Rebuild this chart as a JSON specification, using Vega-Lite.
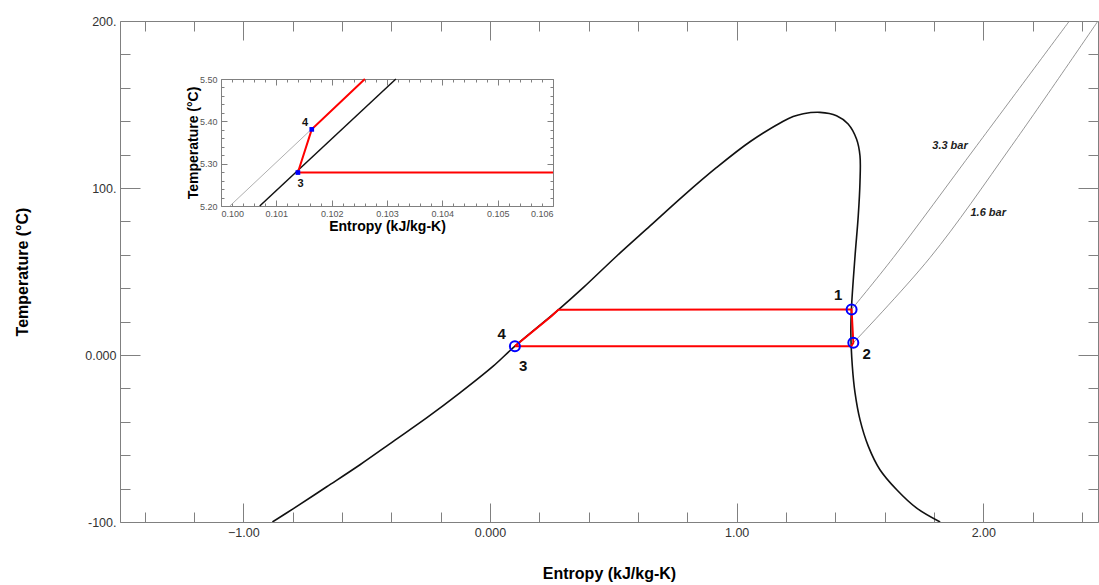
{
  "$schema": "https://vega.github.io/schema/vega-lite/v6.json",
  "width": 978,
  "height": 501,
  "autosize": "none",
  "padding": {"left": 120, "top": 21, "right": 1, "bottom": 63},
  "background": "white",
  "config": {
    "view": {"stroke": null},
    "font": "Liberation Sans",
    "axis": {"grid": false, "domainColor": "#808080", "tickColor": "#808080", "domainWidth": 1, "tickWidth": 1, "labelFont": "Liberation Sans", "titleFont": "Liberation Sans", "labelColor": "#333333", "titleColor": "#000000"}
  },
  "datasets": {
    "dome": [
      {"i": 0, "s": -0.882, "T": -100}, {"i": 1, "s": -0.797, "T": -92.0}, {"i": 2, "s": -0.662, "T": -78.9},
      {"i": 3, "s": -0.527, "T": -65.7}, {"i": 4, "s": -0.392, "T": -51.7}, {"i": 5, "s": -0.257, "T": -37.7},
      {"i": 6, "s": -0.122, "T": -22.7}, {"i": 7, "s": 0.013, "T": -6.7}, {"i": 8, "s": 0.101, "T": 5.28},
      {"i": 9, "s": 0.277, "T": 27.0}, {"i": 10, "s": 0.378, "T": 40.3}, {"i": 11, "s": 0.514, "T": 59.3},
      {"i": 12, "s": 0.649, "T": 77.3}, {"i": 13, "s": 0.784, "T": 95.3}, {"i": 14, "s": 0.919, "T": 112.3},
      {"i": 15, "s": 1.054, "T": 127.7}, {"i": 16, "s": 1.189, "T": 140.0}, {"i": 17, "s": 1.229, "T": 142.8},
      {"i": 18, "s": 1.270, "T": 144.5}, {"i": 19, "s": 1.338, "T": 145.3}, {"i": 20, "s": 1.405, "T": 143.3},
      {"i": 21, "s": 1.452, "T": 138.3}, {"i": 22, "s": 1.486, "T": 129.3}, {"i": 23, "s": 1.500, "T": 119.3},
      {"i": 24, "s": 1.500, "T": 103.3}, {"i": 25, "s": 1.493, "T": 83.3}, {"i": 26, "s": 1.480, "T": 59.3},
      {"i": 27, "s": 1.466, "T": 29.3}, {"i": 28, "s": 1.463, "T": 13.3}, {"i": 29, "s": 1.469, "T": -6.7},
      {"i": 30, "s": 1.480, "T": -22.7}, {"i": 31, "s": 1.500, "T": -38.7}, {"i": 32, "s": 1.534, "T": -54.7},
      {"i": 33, "s": 1.581, "T": -68.7}, {"i": 34, "s": 1.649, "T": -80.7}, {"i": 35, "s": 1.730, "T": -91.7},
      {"i": 36, "s": 1.825, "T": -100}
    ],
    "isobars": [
      {"p": "3.3 bar", "i": 0, "s": 1.466, "T": 27.3}, {"p": "3.3 bar", "i": 1, "s": 1.635, "T": 58.3},
      {"p": "3.3 bar", "i": 2, "s": 1.973, "T": 125.3}, {"p": "3.3 bar", "i": 3, "s": 2.349, "T": 200},
      {"p": "1.6 bar", "i": 0, "s": 1.473, "T": 7.3}, {"p": "1.6 bar", "i": 1, "s": 1.784, "T": 58.3},
      {"p": "1.6 bar", "i": 2, "s": 2.115, "T": 125.3}, {"p": "1.6 bar", "i": 3, "s": 2.465, "T": 200}
    ],
    "cycle": [
      {"i": 0, "s": 0.101, "T": 5.28}, {"i": 1, "s": 0.1016, "T": 5.38}, {"i": 2, "s": 0.250, "T": 23.3},
      {"i": 3, "s": 0.277, "T": 27.1}, {"i": 4, "s": 1.466, "T": 27.3}, {"i": 5, "s": 1.473, "T": 7.3},
      {"i": 6, "s": 1.465, "T": 5.28}, {"i": 7, "s": 0.101, "T": 5.28}
    ],
    "states": [
      {"n": "1", "s": 1.466, "T": 27.3}, {"n": "2", "s": 1.473, "T": 7.3}, {"n": "3", "s": 0.101, "T": 5.28}
    ],
    "stateLabels": [
      {"n": "1", "s": 1.412, "T": 35.7}, {"n": "2", "s": 1.527, "T": 0.3},
      {"n": "4", "s": 0.047, "T": 12.3}, {"n": "3", "s": 0.135, "T": -6.3}
    ],
    "barLabels": [
      {"p": "3.3 bar", "s": 1.865, "T": 125.3}, {"p": "1.6 bar", "s": 2.020, "T": 85.3}
    ],
    "inLiquid": [
      {"i": 0, "s": 0.10070, "T": 5.2}, {"i": 1, "s": 0.10316, "T": 5.5}
    ],
    "inGrey": [
      {"i": 0, "s": 0.10016, "T": 5.2}, {"i": 1, "s": 0.10260, "T": 5.5}
    ],
    "inCycle": [
      {"i": 0, "s": 0.106, "T": 5.279}, {"i": 1, "s": 0.10139, "T": 5.279},
      {"i": 2, "s": 0.10164, "T": 5.381}, {"i": 3, "s": 0.10260, "T": 5.5}
    ],
    "inStates": [
      {"n": "3", "s": 0.10139, "T": 5.279}, {"n": "4", "s": 0.10164, "T": 5.381}
    ],
    "inLabels": [
      {"n": "4", "s": 0.10152, "T": 5.397}, {"n": "3", "s": 0.10144, "T": 5.252}
    ]
  },
  "layer": [
    {
      "layer": [
        {
          "data": {"name": "dome"},
          "mark": {"type": "line", "color": "#111111", "strokeWidth": 1.6, "clip": true, "interpolate": "catmull-rom"},
          "encoding": {
            "x": {"field": "s", "type": "quantitative", "scale": {"domain": [-1.5, 2.465], "nice": false, "zero": false},
              "axis": {"orient": "bottom", "title": "Entropy (kJ/kg-K)", "titleFontSize": 16, "titleFontWeight": "bold", "titlePadding": 27,
                "values": [-1.4, -1.2, -1, -0.8, -0.6, -0.4, -0.2, 0, 0.2, 0.4, 0.6, 0.8, 1, 1.2, 1.4, 1.6, 1.8, 2, 2.2, 2.4],
                "tickSize": {"condition": {"test": "abs(datum.value - round(datum.value)) < 1e-6", "value": -19}, "value": -10},
                "labelExpr": "abs(datum.value - round(datum.value)) < 1e-6 ? (round(datum.value) == 0 ? '0.000' : format(datum.value, '.2f')) : ''",
                "labelFontSize": 12.5, "labelPadding": 23}},
            "y": {"field": "T", "type": "quantitative", "scale": {"domain": [-100, 200], "nice": false, "zero": false},
              "axis": {"orient": "left", "title": "Temperature (°C)", "titleFontSize": 16, "titleFontWeight": "bold", "titlePadding": 54,
                "values": [-100, -80, -60, -40, -20, 0, 20, 40, 60, 80, 100, 120, 140, 160, 180, 200],
                "tickSize": {"condition": {"test": "datum.value % 100 == 0", "value": -20}, "value": -10},
                "labelExpr": "datum.value % 100 == 0 ? (datum.value == 0 ? '0.000' : datum.value + '.') : ''",
                "labelFontSize": 12.5, "labelPadding": 24}},
            "order": {"field": "i", "type": "quantitative"}
          }
        },
        {
          "data": {"name": "isobars"},
          "mark": {"type": "line", "color": "#8a8a8a", "strokeWidth": 0.9, "clip": true, "interpolate": "catmull-rom"},
          "encoding": {
            "x": {"field": "s", "type": "quantitative",
              "axis": {"orient": "top", "title": null, "labels": false,
                "values": [-1.4, -1.2, -1, -0.8, -0.6, -0.4, -0.2, 0, 0.2, 0.4, 0.6, 0.8, 1, 1.2, 1.4, 1.6, 1.8, 2, 2.2, 2.4],
                "tickSize": {"condition": {"test": "abs(datum.value - round(datum.value)) < 1e-6", "value": -19}, "value": -10}}},
            "y": {"field": "T", "type": "quantitative",
              "axis": {"orient": "right", "title": null, "labels": false,
                "values": [-100, -80, -60, -40, -20, 0, 20, 40, 60, 80, 100, 120, 140, 160, 180, 200],
                "tickSize": {"condition": {"test": "datum.value % 100 == 0", "value": -20}, "value": -10}}},
            "detail": {"field": "p"},
            "order": {"field": "i", "type": "quantitative"}
          }
        },
        {
          "data": {"name": "cycle"},
          "mark": {"type": "line", "color": "#ff0000", "strokeWidth": 2, "clip": true},
          "encoding": {
            "x": {"field": "s", "type": "quantitative", "axis": null},
            "y": {"field": "T", "type": "quantitative", "axis": null},
            "order": {"field": "i", "type": "quantitative"}
          }
        },
        {
          "data": {"name": "states"},
          "mark": {"type": "point", "shape": "circle", "filled": false, "stroke": "#0000ff", "strokeWidth": 2, "size": 100, "opacity": 1},
          "encoding": {
            "x": {"field": "s", "type": "quantitative", "axis": null},
            "y": {"field": "T", "type": "quantitative", "axis": null}
          }
        },
        {
          "data": {"name": "stateLabels"},
          "mark": {"type": "text", "fontSize": 15, "fontWeight": "bold", "color": "#111111", "align": "center", "baseline": "middle"},
          "encoding": {
            "x": {"field": "s", "type": "quantitative", "axis": null},
            "y": {"field": "T", "type": "quantitative", "axis": null},
            "text": {"field": "n"}
          }
        },
        {
          "data": {"name": "barLabels"},
          "mark": {"type": "text", "fontSize": 11, "fontWeight": "bold", "fontStyle": "italic", "color": "#222222", "align": "center", "baseline": "middle"},
          "encoding": {
            "x": {"field": "s", "type": "quantitative", "axis": null},
            "y": {"field": "T", "type": "quantitative", "axis": null},
            "text": {"field": "p"}
          }
        }
      ],
      "resolve": {"axis": {"x": "independent", "y": "independent"}}
    },
    {
      "layer": [
        {
          "data": {"name": "inLiquid"},
          "mark": {"type": "line", "color": "#111111", "strokeWidth": 1.5},
          "encoding": {
            "x": {"field": "s", "type": "quantitative", "scale": {"domain": [0.1, 0.106], "range": [101, 433], "nice": false, "zero": false},
              "axis": {"orient": "bottom", "offset": -316, "title": "Entropy (kJ/kg-K)", "titleFontSize": 14, "titleFontWeight": "bold", "titlePadding": 1,
                "values": [0.1, 0.1002, 0.1004, 0.1006, 0.1008, 0.101, 0.1012, 0.1014, 0.1016, 0.1018, 0.102, 0.1022, 0.1024, 0.1026, 0.1028, 0.103, 0.1032, 0.1034, 0.1036, 0.1038, 0.104, 0.1042, 0.1044, 0.1046, 0.1048, 0.105, 0.1052, 0.1054, 0.1056, 0.1058, 0.106],
                "tickSize": {"condition": {"test": "abs(datum.value * 1000 - round(datum.value * 1000)) < 1e-6", "value": -6}, "value": -3},
                "labelExpr": "abs(datum.value * 1000 - round(datum.value * 1000)) < 1e-6 ? format(datum.value, '.3f') : ''",
                "labelFontSize": 9, "labelColor": "#555555", "labelPadding": 9}},
            "y": {"field": "T", "type": "quantitative", "scale": {"domain": [5.2, 5.5], "range": [185, 58], "nice": false, "zero": false},
              "axis": {"orient": "left", "offset": -101, "title": "Temperature (°C)", "titleFontSize": 14, "titleFontWeight": "bold", "titlePadding": -1,
                "values": [5.2, 5.22, 5.24, 5.26, 5.28, 5.3, 5.32, 5.34, 5.36, 5.38, 5.4, 5.42, 5.44, 5.46, 5.48, 5.5],
                "tickSize": {"condition": {"test": "abs(datum.value * 10 - round(datum.value * 10)) < 1e-6", "value": -6}, "value": -3},
                "labelExpr": "abs(datum.value * 10 - round(datum.value * 10)) < 1e-6 ? format(datum.value, '.2f') : ''",
                "labelFontSize": 9, "labelColor": "#555555", "labelPadding": 10}},
            "order": {"field": "i", "type": "quantitative"}
          }
        },
        {
          "data": {"name": "inGrey"},
          "mark": {"type": "line", "color": "#9a9a9a", "strokeWidth": 0.8},
          "encoding": {
            "x": {"field": "s", "type": "quantitative",
              "axis": {"orient": "top", "offset": -58, "title": null, "labels": false,
                "values": [0.1, 0.1002, 0.1004, 0.1006, 0.1008, 0.101, 0.1012, 0.1014, 0.1016, 0.1018, 0.102, 0.1022, 0.1024, 0.1026, 0.1028, 0.103, 0.1032, 0.1034, 0.1036, 0.1038, 0.104, 0.1042, 0.1044, 0.1046, 0.1048, 0.105, 0.1052, 0.1054, 0.1056, 0.1058, 0.106],
                "tickSize": {"condition": {"test": "abs(datum.value * 1000 - round(datum.value * 1000)) < 1e-6", "value": -6}, "value": -3}}},
            "y": {"field": "T", "type": "quantitative",
              "axis": {"orient": "right", "offset": -545, "title": null, "labels": false,
                "values": [5.2, 5.22, 5.24, 5.26, 5.28, 5.3, 5.32, 5.34, 5.36, 5.38, 5.4, 5.42, 5.44, 5.46, 5.48, 5.5],
                "tickSize": {"condition": {"test": "abs(datum.value * 10 - round(datum.value * 10)) < 1e-6", "value": -6}, "value": -3}}},
            "order": {"field": "i", "type": "quantitative"}
          }
        },
        {
          "data": {"name": "inCycle"},
          "mark": {"type": "line", "color": "#ff0000", "strokeWidth": 2},
          "encoding": {
            "x": {"field": "s", "type": "quantitative", "axis": null},
            "y": {"field": "T", "type": "quantitative", "axis": null},
            "order": {"field": "i", "type": "quantitative"}
          }
        },
        {
          "data": {"name": "inStates"},
          "mark": {"type": "point", "shape": "square", "filled": true, "color": "#0000ff", "size": 22, "opacity": 1},
          "encoding": {
            "x": {"field": "s", "type": "quantitative", "axis": null},
            "y": {"field": "T", "type": "quantitative", "axis": null}
          }
        },
        {
          "data": {"name": "inLabels"},
          "mark": {"type": "text", "fontSize": 11, "fontWeight": "bold", "color": "#111111", "align": "center", "baseline": "middle"},
          "encoding": {
            "x": {"field": "s", "type": "quantitative", "axis": null},
            "y": {"field": "T", "type": "quantitative", "axis": null},
            "text": {"field": "n"}
          }
        }
      ],
      "resolve": {"axis": {"x": "independent", "y": "independent"}}
    }
  ],
  "resolve": {"scale": {"x": "independent", "y": "independent"}, "axis": {"x": "independent", "y": "independent"}}
}
